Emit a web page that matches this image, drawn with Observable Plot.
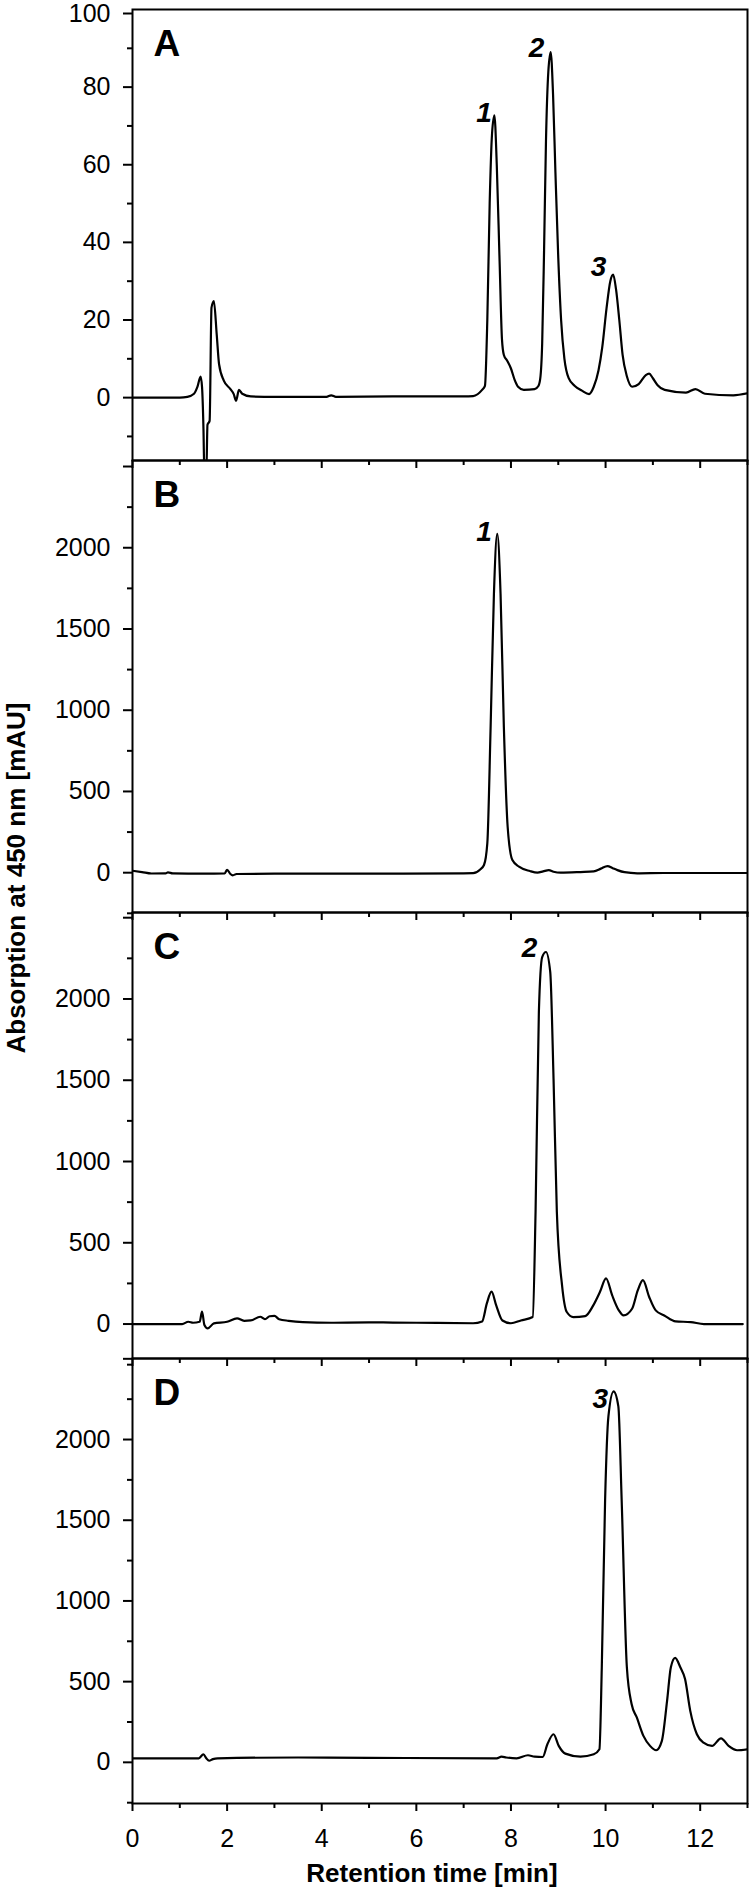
<!DOCTYPE html>
<html><head><meta charset="utf-8">
<script src="https://cdn.jsdelivr.net/npm/d3@7"></script>
<script src="https://cdn.jsdelivr.net/npm/@observablehq/plot@0.6"></script>
<style>
body{margin:0;background:#fff;font-family:'Liberation Sans',Arial,sans-serif;color:#000;}
#wrap{position:relative;width:750px;height:1888px;overflow:hidden;}
.panel{position:absolute;left:0;}
.ytitle{position:absolute;left:16px;top:878px;transform:translate(-50%,-50%) rotate(-90deg);font-weight:bold;font-size:26px;white-space:nowrap;}
.xtitle{position:absolute;left:432px;top:1873px;transform:translate(-50%,-50%);font-weight:bold;font-size:26px;white-space:nowrap;}
</style></head><body>
<div id="wrap">
  <div class="ytitle">Absorption at 450 nm [mAU]</div>
  <div class="xtitle">Retention time [min]</div>
</div>
<script>
// ---- data (retention time in min, absorption in mAU) ----
const timeA = [0,1.0,1.16,1.30,1.37,1.44,1.47,1.50,1.52,1.56,1.585,1.63,1.67,1.72,1.78,1.83,1.93,2.07,2.14,2.19,2.25,2.32,2.50,3.0,4.1,4.2,4.3,5.5,7.0,7.2,7.39,7.45,7.50,7.55,7.60,7.65,7.70,7.76,7.81,7.85,7.92,8.00,8.08,8.15,8.27,8.50,8.58,8.62,8.66,8.70,8.74,8.79,8.84,8.89,8.94,9.00,9.06,9.13,9.22,9.35,9.50,9.65,9.75,9.85,9.93,10.02,10.10,10.16,10.22,10.29,10.36,10.45,10.56,10.70,10.85,10.92,11.00,11.10,11.25,11.70,11.90,12.10,12.70,13.0];
const absA  = [0,0,0.2,1.0,2.7,5.4,2.7,-8,-20,-20,-7,-6,23.2,24.9,16.3,8.6,4.4,2.2,0.9,-0.8,2.0,1.0,0.3,0.2,0.2,0.6,0.2,0.3,0.3,0.4,2,3,20,50,68,72.7,60,35,15,11,9.5,7.5,4.5,2.8,2.0,2.2,3,5,14,38,66,84,89,78,58,36,20,10,5,3,1.8,0.9,2.8,7,13,23,30,31.7,28,20,11,5.5,2.8,3.5,5.8,6.2,5,3.2,2,1.3,2.2,1.0,0.6,1.1];

const timeB = [0,0.2,0.4,0.7,0.75,0.85,1.5,1.95,2.0,2.07,2.12,2.2,3,5,7.0,7.2,7.35,7.43,7.50,7.57,7.64,7.71,7.78,7.85,7.93,8.03,8.17,8.4,8.56,8.68,8.80,8.9,9.05,9.47,9.75,9.9,10.04,10.15,10.25,10.4,10.67,11.23,13];
const absB  = [12,4,-5,-4,2,-4,-6,-4,18,-8,-16,-8,-6,-6,-4,-3,20,47,180,897,1717,2086,1717,897,283,78,37,10,0,8,16,6,0,4,8,25,41,28,16,3,-4,-2,-2];

const timeC = [0,1.05,1.18,1.28,1.42,1.47,1.52,1.59,1.72,2.0,2.21,2.36,2.5,2.7,2.8,2.9,3.0,3.1,3.3,3.6,4.2,5,6,7.2,7.39,7.49,7.59,7.69,7.82,8.00,8.21,8.46,8.52,8.59,8.66,8.74,8.83,8.90,8.97,9.08,9.18,9.32,9.57,9.74,9.88,10.01,10.14,10.28,10.38,10.56,10.68,10.79,10.92,11.06,11.24,11.48,11.80,12.08,12.9];
const absC  = [0,0,14,8,14,76,-6,-27,4,14,35,20,22,45,30,48,50,30,20,12,8,10,8,5,16,127,199,113,22,5,22,43,689,1920,2258,2289,2166,1510,689,238,74,43,49,115,197,281,176,84,53,94,207,270,168,84,53,16,12,0,0];

const timeD = [0,1.4,1.5,1.56,1.62,1.7,1.8,3.5,5,7.7,7.80,7.9,8.12,8.36,8.5,8.67,8.77,8.90,9.01,9.15,9.47,9.75,9.87,9.92,9.99,10.06,10.17,10.27,10.34,10.45,10.55,10.66,10.80,10.94,11.07,11.19,11.30,11.38,11.47,11.58,11.68,11.79,11.93,12.07,12.25,12.44,12.60,12.78,13.0];
const absD  = [25,25,50,25,10,20,25,30,28,25,35,30,25,44,35,33,112,174,102,54,35,50,81,589,1625,2143,2298,2205,1625,589,361,278,164,102,75,133,381,589,647,589,516,319,174,122,102,149,102,75,81];

const peakNameA = ["1","2","3"], peakTimeA = [7.43,8.54,9.85], peakAbsA = [73.2,90,33.6];
const peakNameB = ["1"], peakTimeB = [7.43], peakAbsB = [2097];
const peakNameC = ["2"], peakTimeC = [8.39], peakAbsC = [2312];
const peakNameD = ["3"], peakTimeD = [9.89], peakAbsD = [2250];

const panelLetters = ["A","B","C","D"];
const yMajorA = [0,20,40,60,80], yTopA = [100], yMinorA = [-10,10,30,50,70,90];
const yMajorBCD = [0,500,1000,1500,2000,2500], yMinorBCD = [-250,250,750,1250,1750,2250];
const yLabelledBCD = [0,500,1000,1500,2000];
const xMajor = [0,2,4,6,8,10,12], xMinor = [1,3,5,7,9,11,13];
const yDomains = [[-16.2,100],[-245,2537],[-212,2532],[-255,2502]];

// ---- layout ----
const panelTop = [9,460,912,1358], panelBottom = [460,912,1358,1803];
const series = [[timeA,absA],[timeB,absB],[timeC,absC],[timeD,absD]];
const peaks = [[peakNameA,peakTimeA,peakAbsA],[peakNameB,peakTimeB,peakAbsB],[peakNameC,peakTimeC,peakAbsC],[peakNameD,peakTimeD,peakAbsD]];
const font = "'Liberation Sans', Arial, sans-serif";
const wrap = document.getElementById("wrap");

for (let i = 0; i < 4; i++) {
  const last = i === 3;
  const mt = 20, mb = last ? 80 : 20;
  const [ts, vs] = series[i];
  const rows = ts.map((t, j) => ({t, v: vs[j]}));
  const [pn, pt, pv] = peaks[i];
  const labels = pn.map((s, j) => ({s, t: pt[j], v: pv[j]}));
  const yMaj = i === 0 ? yMajorA : yMajorBCD;
  const yMin = i === 0 ? yMinorA : yMinorBCD;
  const yFmt = i === 0 ? (d => String(d)) : (d => yLabelledBCD.includes(d) ? String(d) : "");
  const extra = i === 0
    ? [Plot.axisY(yTopA, {tickSize: 9, tickPadding: 13, fontSize: 25, strokeWidth: 2, label: null, dy: 4, tickFormat: d => String(d)})]
    : [];
  const svg = Plot.plot({
    width: 750,
    height: panelBottom[i] - panelTop[i] + mt + mb,
    marginLeft: 132, marginRight: 3, marginTop: mt, marginBottom: mb,
    style: {fontFamily: font, background: "transparent", overflow: "visible", color: "black"},
    x: {domain: [0, 13]},
    y: {domain: yDomains[i]},
    marks: [
      Plot.axisY(yMaj, {tickSize: 9, tickPadding: 13, fontSize: 25, strokeWidth: 2, label: null, tickFormat: yFmt}),
      ...extra,
      Plot.axisY(yMin, {tickSize: 5, tickFormat: () => "", strokeWidth: 2, label: null}),
      Plot.axisX(xMajor, {tickSize: 8, tickPadding: 18, fontSize: 25, strokeWidth: 2, label: null,
        tickFormat: last ? (d => String(d)) : (() => "")}),
      Plot.axisX(xMinor, {tickSize: 5, tickFormat: () => "", strokeWidth: 2, label: null}),
      Plot.line(rows, {x: "t", y: "v", stroke: "black", strokeWidth: 2.2, curve: "monotone-x", clip: true}),
      Plot.frame({stroke: "black", strokeWidth: 2}),
      Plot.text([panelLetters[i]], {text: d => d, frameAnchor: "top-left", lineAnchor: "top", textAnchor: "start",
        dx: 21, dy: 20, fontSize: 37, fontWeight: "bold"}),
      Plot.text(labels, {x: "t", y: "v", text: "s", fontSize: 28, fontWeight: "bold", fontStyle: "italic"})
    ]
  });
  svg.classList.add("panel");
  svg.style.top = (panelTop[i] - mt) + "px";
  svg.style.position = "absolute";
  wrap.appendChild(svg);
}
</script>
</body></html>
